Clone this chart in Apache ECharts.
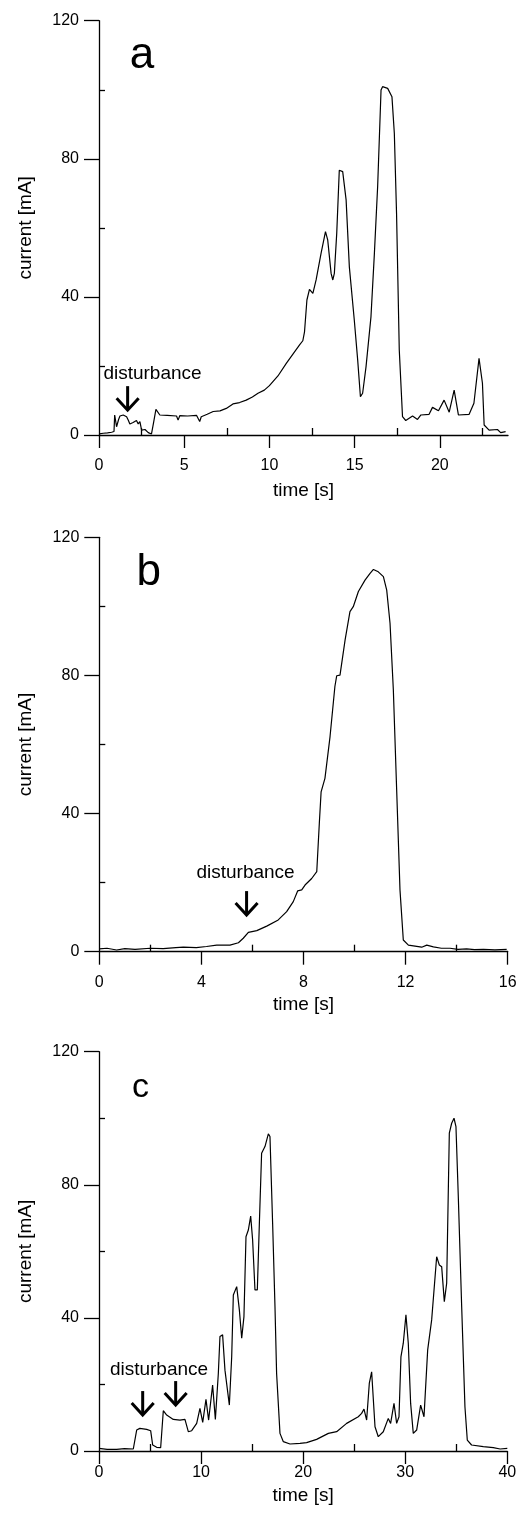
<!DOCTYPE html>
<html><head><meta charset="utf-8">
<script src="https://cdn.jsdelivr.net/npm/echarts@6/dist/echarts.min.js"></script>
<style>html,body{margin:0;padding:0;background:#fff}#c{width:532px;height:1532px}</style>
</head><body><div id="c"></div>
<script>
// ---------- Panel a ----------
const timeA = [0,0.25,0.5,0.74,0.88, 0.92,1.03,1.15,1.23,1.42, 1.62,1.72,1.81,2.0,2.2, 2.3,2.4,2.5,2.7,2.89,
  3.08,3.2,3.34,3.57,4.0, 4.55,4.64,4.74,5.2,5.72, 5.91,6.0,6.35,6.7,7.1, 7.47,7.86,8.25,8.64,9.0,
  9.33,9.7,10.0,10.5,10.6, 11.0,11.38,11.77,11.96,12.06, 12.2,12.35,12.55,12.74,13.03, 13.29,13.42,13.62,13.72,13.81,
  13.95,14.1,14.3,14.5,14.69, 14.98,15.18,15.34,15.47,15.67, 15.96,16.16,16.35,16.55,16.64, 16.94,17.19,17.33,17.46,17.62,
  17.81,18.0,18.4,18.69,18.89, 19.37,19.57,19.92,20.25,20.55, 20.84,21.09,21.72,22.0,22.3, 22.5,22.6,22.89,23.38,23.57, 23.86];
const currentA = [0.3,0.5,0.6,0.8,1.0, 5.8,2.4,4.5,5.5,5.8, 5.3,4.3,3.2,3.6,4.2, 3.2,3.9,1.4,1.6,0.7,
  0.3,3.5,7.4,5.8,5.7, 5.5,4.3,5.6,5.5,5.7, 3.9,5.3,6.0,6.8,7.0, 7.7,9.0,9.4,10.1,11.0,
  12.1,13.0,14.3,17.1,16.8, 20.8,23.4,26.1,27.3,29.9, 39.1,42.2,41.0,44.9,52.6, 58.9,56.5,46.8,44.9,46.8,
  58.4,76.7,76.3,68.1,48.7, 33.3,21.7,11.1,12.1,19.8, 34.3,52.6,71.9,99.9,100.9, 100.4,98.0,87.4,64.2,24.6,
  5.3,4.2,5.5,4.5,5.8, 6.0,8.0,7.0,10.1,6.6, 13.0,5.8,6.0,9.2,22.2, 15.0,2.9,1.4,1.6,0.7, 1.0];
const arrowsA = [[1.68, 7.2]];
const noteA = [3.14, 17.7];
const letterA = [2.52, 109.9];

// ---------- Panel b ----------
const timeB = [0,0.3,0.68,1.0,1.4, 1.99,2.5,3.0,3.29,3.8, 4.2,4.6,5.12,5.45,5.64, 5.84,6.17,6.56,7.01,7.34,
  7.6,7.77,7.93,8.06,8.32, 8.52,8.62,8.69,8.84,9.04, 9.23,9.3,9.43,9.63,9.82, 9.95,10.15,10.41,10.6,10.74,
  10.93,11.13,11.26,11.39,11.52, 11.65,11.78,11.91,12.11,12.37, 12.63,12.83,13.09,13.4,13.74, 14.05,14.39,14.7,15.05,15.5, 15.96];
const currentB = [0.8,1.0,0.5,0.9,0.7, 1.0,0.9,1.2,1.3,1.2, 1.5,1.9,1.9,2.6,3.9, 5.6,6.1,7.4,9.2,11.6,
  14.5,17.6,17.9,19.3,21.2, 23.2,37.2,46.3,50.2,62.3, 76.8,79.9,80.1,90.3,98.5, 99.9,104.3,107.6,109.5,110.7,
  110.0,108.6,104.7,95.1,75.8, 46.8,17.9,3.4,1.9,1.6, 1.3,1.9,1.4,1.0,1.0, 0.7,0.8,0.6,0.7,0.5, 0.7];
const arrowsB = [[5.77, 10.6]];
const noteB = [5.73, 22.8];
const letterB = [1.94, 109.8];

// ---------- Panel c ----------
const timeC = [0,0.8,1.73,2.5,3.36, 3.53,3.69,4.0,4.67,5.06, 5.26,5.65,6.04,6.3,6.63, 7.28,7.93,8.42,8.75,9.08,
  9.57,9.89,10.16,10.48,10.74, 11.13,11.4,11.69,11.85,12.11, 12.34,12.77,13.0,13.16,13.49, 13.75,13.98,14.2,14.4,14.63,
  14.86,15.05,15.28,15.51,15.71, 15.93,16.26,16.59,16.75,17.01, 17.24,17.4,17.73,18.06,18.71, 19.69,20.34,21.32,22.47,23.28,
  24.26,25.4,25.73,25.96,26.22, 26.48,26.71,27.04,27.36,27.85, 28.34,28.57,28.9,29.16,29.39, 29.58,29.81,30.07,30.3,30.53,
  30.79,31.12,31.51,31.84,32.2, 32.59,33.08,33.34,33.57,33.83, 34.06,34.32,34.55,34.78,34.97, 35.2,35.53,35.85,36.08,36.5,
  37.65,38.63,39.3,40];
const currentC = [0.8,0.5,0.5,0.7,0.6, 0.8,6.3,6.8,6.5,6.1, 1.8,1.1,1.0,12.1,10.8, 9.5,9.3,9.5,5.8,6.1,
  8.3,12.8,8.6,15.5,9.3, 19.8,9.5,23.3,34.4,34.9, 24.3,13.8,28.3,46.9,49.4, 42.4,33.9,40.4,64.4,66.4,
  70.6,63.4,48.4,48.4,68.4, 89.5,91.5,95.3,94.5,68.4, 43.4,23.3,5.3,2.8,2.1, 2.3,2.5,3.5,5.3,5.8,
  8.3,10.3,11.3,12.6,9.3, 20.3,23.8,7.3,4.3,5.8, 9.8,8.3,14.3,8.3,10.3, 28.3,32.4,40.9,32.4,14.3,
  5.3,6.3,13.8,10.3,30.4, 39.4,58.4,55.9,55.4,44.9, 50.4,95.5,98.5,100.0,97.5, 76.4,43.4,13.3,3.3,1.8,
  1.3,1.0,0.6,0.8];
const arrowsC = [[4.28, 10.8], [7.51, 13.8]];
const noteC = [5.88, 24.4];
const letterC = [4.06, 109.3];

// ---------- Tick labels ----------
const xMajorA = [0, 5, 10, 15, 20],   xMinorA = [2.5, 7.5, 12.5, 17.5, 22.5], xMaxA = 24;
const xMajorB = [0, 4, 8, 12, 16],    xMinorB = [2, 6, 10, 14],               xMaxB = 16;
const xMajorC = [0, 10, 20, 30, 40],  xMinorC = [5, 15, 25, 35],              xMaxC = 40;
const yMajor = [0, 40, 80, 120], yMinor = [20, 60, 100], yMax = 120;
const letters = ['a', 'b', 'c'];
const xName = 'time [s]', yName = 'current [mA]', noteText = 'disturbance';

// ---------- Build ----------
const FONT = '"Liberation Sans", Arial, Helvetica, sans-serif';
const panels = [
  {t: timeA, v: currentA, arrows: arrowsA, note: noteA, letter: letterA, xMajor: xMajorA, xMinor: xMinorA, xMax: xMaxA,
   grid: {left: 99, top: 20.7, width: 409, height: 414.3}, labelMargin: 23, nameGap: 46, letterSize: 44},
  {t: timeB, v: currentB, arrows: arrowsB, note: noteB, letter: letterB, xMajor: xMajorB, xMinor: xMinorB, xMax: xMaxB,
   grid: {left: 99.3, top: 537.3, width: 408.4, height: 414.4}, labelMargin: 23, nameGap: 44, letterSize: 44},
  {t: timeC, v: currentC, arrows: arrowsC, note: noteC, letter: letterC, xMajor: xMajorC, xMinor: xMinorC, xMax: xMaxC,
   grid: {left: 99, top: 1051.7, width: 408.3, height: 399.3}, labelMargin: 14, nameGap: 35, letterSize: 34}
];

const axisColor = '#000';
const grids = [], xAxes = [], yAxes = [], series = [];
panels.forEach((p, i) => {
  grids.push(Object.assign({outerBoundsMode: 'none', containLabel: false}, p.grid));
  xAxes.push({
    type: 'value', gridIndex: i, min: 0, max: p.xMax,
    axisLine: {show: true, onZero: false, lineStyle: {color: axisColor, width: 1.3}},
    axisTick: {show: true, inside: false, length: 13, customValues: p.xMajor, lineStyle: {color: axisColor, width: 1.3}},
    axisLabel: {show: true, customValues: p.xMajor, margin: p.labelMargin, color: '#000', fontSize: 16, fontFamily: FONT},
    splitLine: {show: false},
    name: xName, nameLocation: 'middle', nameGap: p.nameGap,
    nameTextStyle: {color: '#000', fontSize: 19, fontFamily: FONT}
  });
  xAxes.push({
    type: 'value', gridIndex: i, min: 0, max: p.xMax,
    axisLine: {show: false},
    axisTick: {show: true, inside: false, length: 7, customValues: p.xMinor, lineStyle: {color: axisColor, width: 1.3}},
    axisLabel: {show: false}, splitLine: {show: false}
  });
  yAxes.push({
    type: 'value', gridIndex: i, min: 0, max: yMax,
    axisLine: {show: true, onZero: false, lineStyle: {color: axisColor, width: 1.3}},
    axisTick: {show: true, inside: false, length: 15, customValues: yMajor, lineStyle: {color: axisColor, width: 1.3}},
    axisLabel: {show: true, customValues: yMajor, margin: 20, color: '#000', fontSize: 16, fontFamily: FONT},
    splitLine: {show: false},
    name: yName, nameLocation: 'middle', nameGap: 64,
    nameTextStyle: {color: '#000', fontSize: 19, fontFamily: FONT}
  });
  yAxes.push({
    type: 'value', gridIndex: i, min: 0, max: yMax,
    axisLine: {show: false},
    axisTick: {show: true, inside: false, length: 6, customValues: yMinor, lineStyle: {color: axisColor, width: 1.3}},
    axisLabel: {show: false}, splitLine: {show: false}
  });
  series.push({
    type: 'line', xAxisIndex: 2 * i, yAxisIndex: 2 * i,
    data: p.t.map((t, k) => [t, p.v[k]]),
    showSymbol: false, symbol: 'none', smooth: false,
    lineStyle: {color: '#000', width: 1.2}, silent: true
  });
  const ann = p.arrows.map(a => [a[0], a[1], 0]);
  ann.push([p.note[0], p.note[1], 1]);
  ann.push([p.letter[0], p.letter[1], 2]);
  const letterStr = letters[i], letterSize = p.letterSize;
  series.push({
    type: 'custom', xAxisIndex: 2 * i, yAxisIndex: 2 * i, data: ann, silent: true, clip: false,
    renderItem: function (params, api) {
      const kind = api.value(2);
      const pt = api.coord([api.value(0), api.value(1)]);
      const x = pt[0], y = pt[1];
      if (kind === 0) {
        return {type: 'group', children: [
          {type: 'line', shape: {x1: x, y1: y - 24, x2: x, y2: y - 2}, style: {stroke: '#000', lineWidth: 3}},
          {type: 'polyline', shape: {points: [[x - 11, y - 12], [x, y], [x + 11, y - 12]]},
           style: {stroke: '#000', lineWidth: 3, fill: null, lineJoin: 'miter'}}
        ]};
      }
      const txt = kind === 1 ? noteText : letterStr;
      const size = kind === 1 ? 19 : letterSize;
      return {type: 'text', style: {text: txt, x: x, y: y, align: 'center', verticalAlign: 'middle',
        textAlign: 'center', textVerticalAlign: 'middle', font: size + 'px ' + FONT, fill: '#000'}};
    }
  });
});

const chart = echarts.init(document.getElementById('c'), null, {renderer: 'canvas'});
chart.setOption({
  animation: false,
  backgroundColor: '#fff',
  grid: grids, xAxis: xAxes, yAxis: yAxes, series: series
});
</script></body></html>
